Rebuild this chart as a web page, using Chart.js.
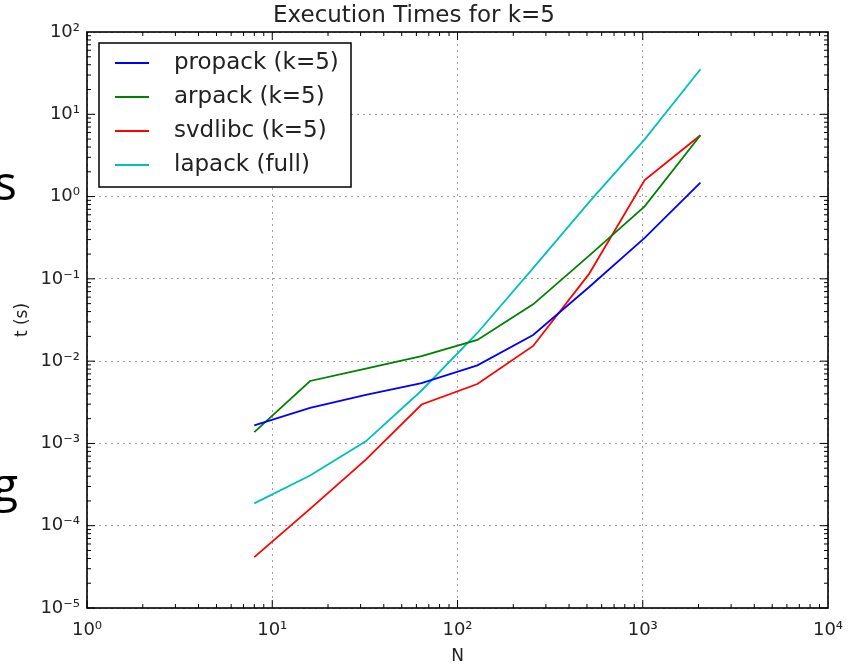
<!DOCTYPE html>
<html>
<head>
<meta charset="utf-8">
<script src="https://cdn.jsdelivr.net/npm/chart.js@4/dist/chart.umd.min.js"></script>
<style>
  body { margin: 0; background: #fff; }
  #wrap { position: relative; width: 850px; height: 665px; overflow: hidden; }
  .slide { position: absolute; font-family: "Open Sans", sans-serif; font-size: 48px; line-height: 1; color: #000; }
</style>
</head>
<body>
<div id="wrap">
  <canvas id="timesChart" width="850" height="665"></canvas>
  <span class="slide" style="left:-6px; top:158px">s</span>
  <span class="slide" style="left:-8px; top:460px">g</span>
</div>
<script>
const sizes = [8, 16, 32, 64, 128, 256, 512, 1024, 2048]
const propack = [1.66e-3, 2.7e-3, 3.9e-3, 5.4e-3, 8.9e-3, 0.0208, 0.079, 0.315, 1.48]
const arpack  = [1.37e-3, 5.74e-3, 8.1e-3, 0.0115, 0.0181, 0.049, 0.19, 0.76, 5.56]
const svdlibc = [4.15e-5, 1.6e-4, 6.35e-4, 2.97e-3, 5.27e-3, 0.0153, 0.114, 1.59, 5.56]
const lapack  = [1.87e-4, 4.07e-4, 1.06e-3, 4.4e-3, 0.022, 0.135, 0.85, 4.95, 35.2]

const xTicks = [1, 10, 100, 1000, 10000]
const yTicks = [1e-5, 1e-4, 1e-3, 1e-2, 1e-1, 1, 10, 100]

const series = [
    { label: 'propack (k=5)', values: propack, color: 'rgb(0, 0, 255)' },
    { label: 'arpack (k=5)',  values: arpack,  color: 'rgb(0, 128, 0)' },
    { label: 'svdlibc (k=5)', values: svdlibc, color: 'rgb(255, 0, 0)' },
    { label: 'lapack (full)', values: lapack,  color: 'rgb(0, 191, 191)' }
]

const sup = { '-': '⁻', '0': '⁰', '1': '¹', '2': '²', '3': '³', '4': '⁴', '5': '⁵', '6': '⁶', '7': '⁷', '8': '⁸', '9': '⁹' }
const powLabel = (v) => {
    let e = String(Math.round(Math.log10(v)))
    return '10' + e.split('').map(c => sup[c]).join('')
}

// matplotlib style: box frame, inward major/minor ticks, legend box
const framePlugin = {
    id: 'frame',
    afterDatasetsDraw(chart) {
        const ctx = chart.ctx
        const ca = chart.chartArea
        const xs = chart.scales.x, ys = chart.scales.y
        ctx.save()
        ctx.strokeStyle = '#000'
        ctx.lineWidth = 1
        // ticks
        for (let d = 0; d < 4; d++) {
            for (let m = 1; m < 10; m++) {
                let px = xs.getPixelForValue(m * Math.pow(10, d))
                let len = m == 1 ? 8 : 4
                ctx.beginPath()
                ctx.moveTo(px, ca.bottom); ctx.lineTo(px, ca.bottom - len)
                ctx.moveTo(px, ca.top); ctx.lineTo(px, ca.top + len)
                ctx.stroke()
            }
        }
        for (let d = -5; d < 2; d++) {
            for (let m = 1; m < 10; m++) {
                let py = ys.getPixelForValue(m * Math.pow(10, d))
                let len = m == 1 ? 8 : 4
                ctx.beginPath()
                ctx.moveTo(ca.left, py); ctx.lineTo(ca.left + len, py)
                ctx.moveTo(ca.right, py); ctx.lineTo(ca.right - len, py)
                ctx.stroke()
            }
        }
        ctx.lineWidth = 1.6
        ctx.strokeRect(ca.left, ca.top, ca.right - ca.left, ca.bottom - ca.top)

        // legend
        let bx = ca.left + 12, by = ca.top + 11
        ctx.fillStyle = '#fff'
        ctx.fillRect(bx, by, 252, 144)
        ctx.lineWidth = 1.5
        ctx.strokeRect(bx, by, 252, 144)
        ctx.font = '23px "DejaVu Sans"'
        ctx.textBaseline = 'middle'
        chart.data.datasets.forEach((ds, i) => {
            let ry = ca.top + 31 + i * 34
            ctx.strokeStyle = ds.borderColor
            ctx.lineWidth = 1.8
            ctx.beginPath()
            ctx.moveTo(ca.left + 28, ry); ctx.lineTo(ca.left + 62, ry)
            ctx.stroke()
            ctx.fillStyle = '#222'
            ctx.fillText(ds.label, ca.left + 87, ry)
        })
        ctx.restore()
    }
}

const config = {
    type: 'line',
    data: {
        datasets: series.map(s => ({
            label: s.label,
            data: sizes.map((n, i) => ({ x: n, y: s.values[i] })),
            borderColor: s.color,
            backgroundColor: s.color,
            borderWidth: 1.8,
            pointRadius: 0,
            tension: 0,
            fill: false
        }))
    },
    options: {
        responsive: false,
        animation: false,
        devicePixelRatio: 1,
        layout: { padding: { left: 0, right: 22, top: 0, bottom: 0 } },
        plugins: {
            legend: { display: false },
            tooltip: { enabled: false },
            title: {
                display: true,
                text: 'Execution Times for k=5',
                color: '#222',
                font: { family: 'DejaVu Sans', size: 23, weight: 'normal', lineHeight: 1.2 },
                padding: { top: 2, bottom: 2.4 }
            }
        },
        scales: {
            x: {
                type: 'logarithmic',
                min: 1,
                max: 10000,
                afterBuildTicks: (scale) => { scale.ticks = xTicks.map(v => ({ value: v })) },
                afterFit: (scale) => {
                    scale.height = 57
                    scale.paddingLeft = 0
                    scale.paddingRight = 0
                },
                ticks: {
                    autoSkip: false,
                    maxRotation: 0,
                    padding: 12,
                    color: '#222',
                    font: { family: 'DejaVu Sans', size: 18 },
                    callback: (v) => powLabel(v)
                },
                grid: { color: '#a0a0a0', lineWidth: 1, drawTicks: false, borderDash: [2, 4] },
                border: { display: false, dash: [2, 4] },
                title: {
                    display: true,
                    text: 'N',
                    color: '#222',
                    font: { family: 'DejaVu Sans', size: 17, lineHeight: 1 },
                    padding: { top: 0, bottom: 0 }
                }
            },
            y: {
                type: 'logarithmic',
                min: 1e-5,
                max: 100,
                afterBuildTicks: (scale) => { scale.ticks = yTicks.map(v => ({ value: v })) },
                afterFit: (scale) => {
                    scale.width = 87
                    scale.paddingTop = 0
                    scale.paddingBottom = 0
                },
                ticks: {
                    autoSkip: false,
                    padding: 7,
                    color: '#222',
                    font: { family: 'DejaVu Sans', size: 18 },
                    callback: (v) => powLabel(v)
                },
                grid: { color: '#a0a0a0', lineWidth: 1, drawTicks: false, borderDash: [2, 4] },
                border: { display: false, dash: [2, 4] },
                title: {
                    display: true,
                    text: 't (s)',
                    color: '#222',
                    font: { family: 'DejaVu Sans', size: 17, lineHeight: 1 },
                    padding: { top: 14, bottom: 0 }
                }
            }
        }
    },
    plugins: [framePlugin]
}

const timesChart = new Chart(document.getElementById('timesChart'), config)
</script>
</body>
</html>
